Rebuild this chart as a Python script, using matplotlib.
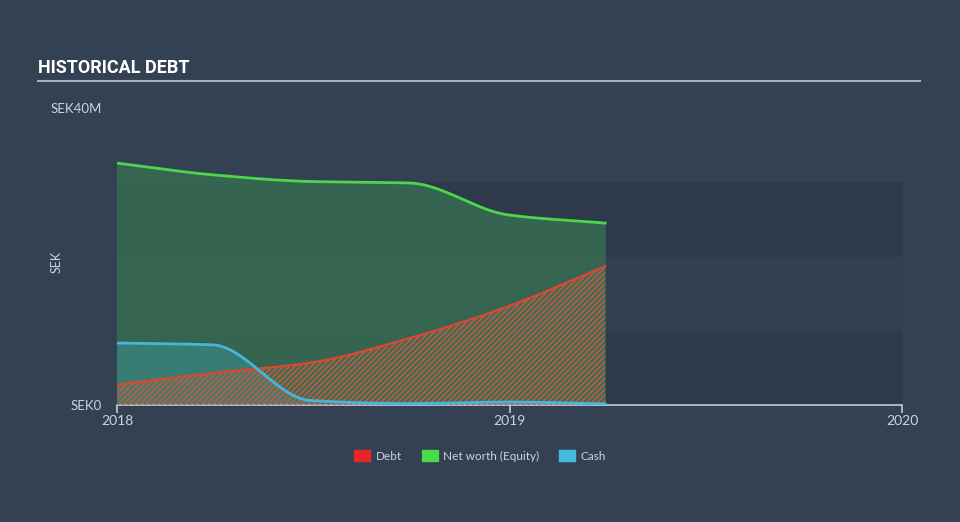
import numpy as np
import pandas as pd
import matplotlib
matplotlib.use("Agg")
import matplotlib.pyplot as plt
import matplotlib.dates as mdates
from matplotlib.patches import Patch

# quarterly values, SEK millions
dates = pd.to_datetime(["2017-12-31", "2018-03-31", "2018-06-30",
                        "2018-09-30", "2018-12-31", "2019-03-31"])
debt = [2.7, 4.3, 5.7, 9.0, 13.3, 18.7]
equity = [32.6, 31.0, 30.1, 29.9, 25.6, 24.5]
cash = [8.35, 8.1, 0.6, 0.2, 0.4, 0.15]

BG = "#334152"
BAND = "#2e3a4a"
TXT = "#d0d4d9"


def monotone(x, y, n=300):
    # Fritsch-Carlson monotone cubic, like d3 curveMonotoneX
    x = np.asarray(x, float)
    y = np.asarray(y, float)
    h = np.diff(x)
    d = np.diff(y) / h
    m = np.zeros_like(y)
    m[0], m[-1] = d[0], d[-1]
    for i in range(1, len(y) - 1):
        if d[i - 1] * d[i] <= 0:
            m[i] = 0
        else:
            w1 = 2 * h[i] + h[i - 1]
            w2 = h[i] + 2 * h[i - 1]
            m[i] = (w1 + w2) / (w1 / d[i - 1] + w2 / d[i])
    xs = np.linspace(x[0], x[-1], n)
    k = np.clip(np.searchsorted(x, xs) - 1, 0, len(x) - 2)
    t = (xs - x[k]) / h[k]
    h00 = 2 * t**3 - 3 * t**2 + 1
    h10 = t**3 - 2 * t**2 + t
    h01 = -2 * t**3 + 3 * t**2
    h11 = t**3 - t**2
    ys = h00 * y[k] + h10 * h[k] * m[k] + h01 * y[k + 1] + h11 * h[k] * m[k + 1]
    return xs, ys


plt.rcParams["hatch.linewidth"] = 1.1
plt.rcParams["font.family"] = ["Lato", "DejaVu Sans"]

fig = plt.figure(figsize=(9.6, 5.22), dpi=100, facecolor=BG)
ax = fig.add_axes([117 / 960, 1 - 405 / 522, 785 / 960, 297 / 522])
ax.set_facecolor(BG)

xnum = mdates.date2num(dates)
x0 = mdates.date2num(pd.Timestamp("2018-01-01"))
x1 = mdates.date2num(pd.Timestamp("2020-01-01"))

# background bands
ax.axhspan(0, 10, color=BAND, zorder=0, lw=0)
ax.axhspan(10, 20, color="#334052", zorder=0, lw=0)
ax.axhspan(20, 30, color=BAND, zorder=0, lw=0)

xs, eq_s = monotone(xnum, equity)
_, de_s = monotone(xnum, debt)
_, ca_s = monotone(xnum, cash)

ax.fill_between(xs, 0, eq_s, color="#376d52", alpha=0.85, lw=0, zorder=1)
ax.fill_between(xs, 0, ca_s, color="#3e9092", alpha=0.55, lw=0, zorder=2)
ax.fill_between(xs, 0, de_s, facecolor=(0.45, 0.45, 0.42, 0.25),
                edgecolor="#bc5f3c", hatch="//////", lw=0, zorder=3)

ax.plot(xs, eq_s, color="#4bd64b", lw=2, zorder=5)
ax.plot(xs, de_s, color="#e0452f", lw=1.6, zorder=5)
ax.plot(xs, ca_s, color="#45b6dc", lw=2, zorder=6)

ax.set_xlim(x0, x1)
ax.set_ylim(0, 40)

for s in ["top", "right", "left"]:
    ax.spines[s].set_visible(False)
ax.spines["bottom"].set_color("#c4cad2")
ax.spines["bottom"].set_linewidth(1.2)

ticks = [mdates.date2num(pd.Timestamp(f"{y}-01-01")) for y in (2018, 2019, 2020)]
ax.set_xticks(ticks)
ax.set_xticklabels(["2018", "2019", "2020"])
ax.tick_params(axis="x", colors="#c4cad2", labelcolor=TXT, length=6,
               width=1.2, labelsize=10, pad=1)
ax.set_yticks([0, 40])
ax.set_yticklabels(["SEK0", "SEK40M"])
ax.tick_params(axis="y", length=0, labelcolor=TXT, labelsize=9.5, pad=11)

fig.text(57 / 960, 1 - 262 / 522, "SEK", color=TXT, fontsize=9,
         rotation=90, ha="center", va="center")

# title and rule
fig.text(38 / 960, 1 - 68 / 522, "HISTORICAL DEBT", color="white",
         fontsize=13, fontweight="bold", fontstretch="condensed", va="center",
         family=["Liberation Sans Narrow", "Roboto", "DejaVu Sans"])
fig.add_artist(plt.Line2D([38 / 960, 920 / 960], [1 - 81 / 522] * 2,
                          color="#a8b0ba", lw=1.5))

handles = [Patch(color="#e8262a", label="Debt"),
           Patch(color="#4ad94a", label="Net worth (Equity)"),
           Patch(color="#45b9e0", label="Cash")]
leg = fig.legend(handles=handles, loc="center", ncol=3,
                 bbox_to_anchor=(0.5, 1 - 456 / 522), frameon=False,
                 handlelength=1.35, handleheight=1.0, columnspacing=1.7,
                 handletextpad=0.45, fontsize=8.5)
for t in leg.get_texts():
    t.set_color(TXT)

fig.savefig("out.png", dpi=100, facecolor=BG)
